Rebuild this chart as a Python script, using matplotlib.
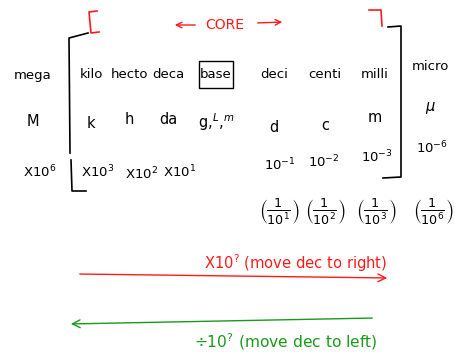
import matplotlib.pyplot as plt

# metric prefix table (handwritten note)
names = ['mega', 'kilo', 'hecto', 'deca', 'base', 'deci', 'centi', 'milli', 'micro']
symbols = ['M', 'k', 'h', 'da', r'g,$^{L}$,$^{m}$', 'd', 'c', 'm', r'$\mu$']
powers = [6, 3, 2, 1, 0, -1, -2, -3, -6]

# layout in pixel coordinates (image is 455 x 358)
col_x = [33, 91, 129, 168, 216, 274, 325, 375, 430]
name_y = [75, 75, 75, 75, 75, 75, 75, 75, 66]
sym_y = [122, 124, 120, 120, 122, 128, 125, 118, 108]
pow_x = [40, 98, 141, 180, None, 280, 324, 377, 432]
pow_y = [172, 172, 174, 172, None, 165, 162, 157, 148]
frac_x = [None, None, None, None, None, 279, 325, 376, 433]
frac_y = 212

RED = '#ff1a1a'
GREEN = '#1a9a1a'
INK = 'black'

fig = plt.figure(figsize=(4.55, 3.58), dpi=100)
ax = fig.add_axes([0, 0, 1, 1])
ax.set_xlim(0, 455)
ax.set_ylim(358, 0)
ax.axis('off')

fs = 9

for x, y, n in zip(col_x, name_y, names):
    ax.text(x, y, n, ha='center', va='center', fontsize=fs + 0.5, color=INK)

# boxed base unit
ax.add_patch(plt.Rectangle((199, 61), 34, 27, fill=False, lw=1.0, ec=INK))

for x, y, s in zip(col_x, sym_y, symbols):
    ax.text(x, y, s, ha='center', va='center', fontsize=fs + 1.5, color=INK)

for x, y, p in zip(pow_x, pow_y, powers):
    if x is None:
        continue
    if p > 0:
        lbl = r'X10$^{%d}$' % p
    else:
        lbl = r'10$^{%d}$' % p
    ax.text(x, y, lbl, ha='center', va='center', fontsize=fs + 0.5, color=INK)

# fractions under the negative powers
for x, p in zip(frac_x, powers):
    if x is None:
        continue
    ax.text(x, frac_y, r'$\left(\frac{1}{10^{%d}}\right)$' % (-p),
            ha='center', va='center', fontsize=13, color=INK)

# left bracket
ax.plot([88, 69, 70], [33, 38, 153], color=INK, lw=1.2)
ax.plot([71, 72, 86], [160, 191, 191], color=INK, lw=1.2)
# right bracket
ax.plot([388, 401, 401, 383], [27, 26, 177, 178], color=INK, lw=1.2)

# red "core" markers
ax.plot([97, 89, 91, 99], [11, 12, 33, 32], color=RED, lw=1.2)
ax.plot([369, 381, 382], [10, 10, 26], color=RED, lw=1.2)
ax.text(225, 25, 'CORE', ha='center', va='center', fontsize=fs + 1, color=RED)
ax.annotate('', xy=(172, 25), xytext=(198, 25),
            arrowprops=dict(arrowstyle='->', color=RED, lw=1.0, mutation_scale=10))
ax.annotate('', xy=(285, 22), xytext=(255, 23),
            arrowprops=dict(arrowstyle='->', color=RED, lw=1.0, mutation_scale=10))

# multiply arrow
ax.annotate('', xy=(390, 278), xytext=(77, 274),
            arrowprops=dict(arrowstyle='->', color=RED, lw=1.0,
                            mutation_scale=14))
ax.text(296, 263, r'X10$^{?}$ (move dec to right)', ha='center', va='center',
        fontsize=fs + 1.6, color=RED)

# divide arrow
ax.annotate('', xy=(68, 324), xytext=(375, 318),
            arrowprops=dict(arrowstyle='->', color=GREEN, lw=1.0,
                            mutation_scale=14))
ax.text(286, 342, r'$\div$10$^{?}$ (move dec to left)', ha='center', va='center',
        fontsize=fs + 2.2, color=GREEN)

fig.savefig('out.png', dpi=100)
